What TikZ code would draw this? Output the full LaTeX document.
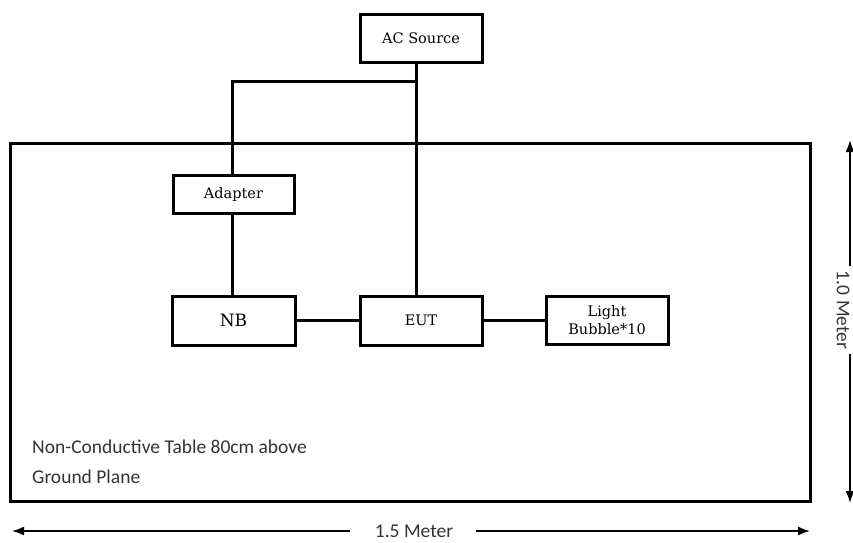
\documentclass[tikz,border=0pt]{standalone}
\usepackage{fontspec}
\setmainfont{DejaVu Serif}
\newfontfamily\labelfont{Carlito}
\usetikzlibrary{arrows.meta}
\begin{document}
\begin{tikzpicture}[x=1pt,y=-1pt,
  blk/.style={draw,line width=3pt,fill=white,inner sep=0pt,font=\fontsize{14.5}{16}\selectfont},
  wire/.style={line width=3pt},
  dim/.style={line width=1.6pt,-{Latex[length=12pt,width=9pt]}},
  lbl/.style={font=\labelfont\fontsize{19.5}{21}\selectfont,text=black!80,inner sep=0pt},
  note/.style={lbl,anchor=west}]
\useasboundingbox (0,0) rectangle (853,542);
\node[blk,minimum width=122pt,minimum height=48pt] (ac) at (421,38) {AC Source};
\draw[line width=3pt] (10,143) rectangle (810,501);
\node[blk,minimum width=121pt,minimum height=38pt] (ad) at (233.5,194) {Adapter};
\node[blk,minimum width=123pt,minimum height=49pt,font=\fontsize{17}{19}\selectfont] (nb) at (233.5,320.5) {NB};
\node[blk,minimum width=122pt,minimum height=49pt] (eut) at (421,320.5) {EUT};
\node[blk,minimum width=122pt,minimum height=48pt,align=center,font=\fontsize{14.5}{18}\selectfont] (lb) at (607,320.5) {Light\\Bubble*10};
\coordinate (j) at (416,81);
\coordinate (c) at (232,81);
\draw[wire] (ac.south -| j) -- (eut.north -| j);
\draw[wire] (j) -- (c) -- (ad.north -| c);
\draw[wire] (ad.south -| c) -- (nb.north -| c);
\draw[wire] (nb.east) -- (eut.west);
\draw[wire] (eut.east) -- (lb.west);
\node[note] (n1) at (32,447) {Non-Conductive Table 80cm above};
\node[note] (n2) at (32,477) {Ground Plane};
\node[lbl] (h) at (414,531) {1.5 Meter};
\coordinate (hl) at (12,531);
\coordinate (hr) at (810,531);
\draw[dim] (350,531) -- (hl);
\draw[dim] (476,531) -- (hr);
\node[lbl,rotate=-90] (v) at (843,310) {1.0 Meter};
\coordinate (vt) at (850,140);
\coordinate (vb) at (850,503);
\draw[dim] (850,266) -- (vt);
\draw[dim] (850,354) -- (vb);
\end{tikzpicture}
\end{document}
